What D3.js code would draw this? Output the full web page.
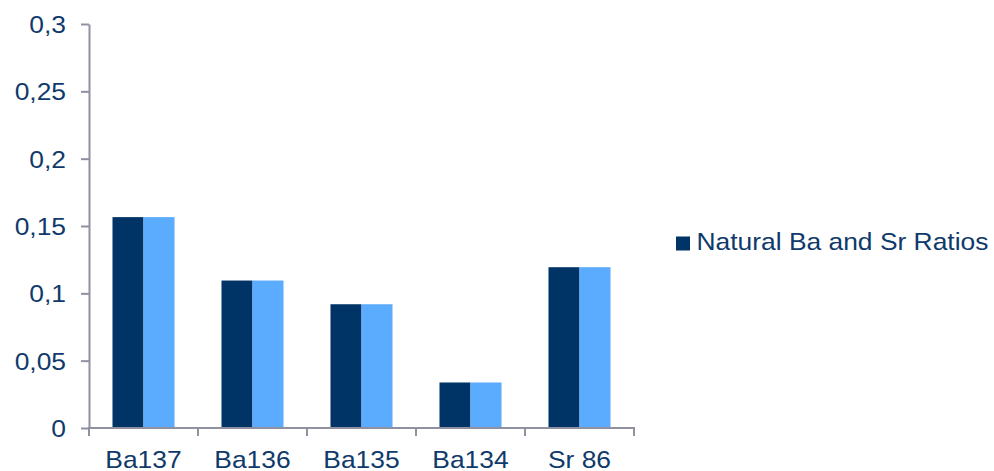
<!DOCTYPE html>
<html>
<head>
<meta charset="utf-8">
<script src="https://cdn.jsdelivr.net/npm/d3@7"></script>
<style>
  html, body { margin: 0; padding: 0; background: #fff; }
  svg { display: block; }
  text { font-family: "Liberation Sans", Arial, sans-serif; fill: #0f3a6b; }
</style>
</head>
<body>
<svg id="chart" width="994" height="471"></svg>
<script>
// Isotope ratios per category
const categories = ["Ba137", "Ba136", "Ba135", "Ba134", "Sr 86"];
const naturalRatios = [0.1566, 0.1095, 0.0919, 0.0338, 0.1194];
const secondRatios  = [0.1566, 0.1095, 0.0919, 0.0338, 0.1194];
const yTicks = [0, 0.05, 0.1, 0.15, 0.2, 0.25, 0.3];
const yTickLabels = ["0", "0,05", "0,1", "0,15", "0,2", "0,25", "0,3"];
const legendLabel = "Natural Ba and Sr Ratios";

const seriesKeys = ["natural", "second"];
const seriesColors = ["#003366", "#5babff"];
const rows = categories.map((c, i) => ({ cat: c, natural: naturalRatios[i], second: secondRatios[i] }));

const axisColor = "#8f90a0";
const stretch = 1.1;   // horizontal text stretch
const fontSize = 24;

const svg = d3.select("#chart");
const plot = { left: 89, right: 634, top: 24, bottom: 428 };

const y = d3.scaleLinear().domain([0, 0.3]).range([plot.bottom, plot.top]);
const p = 0.431;
const x0 = d3.scaleBand().domain(categories).range([plot.left, plot.right])
  .paddingInner(p).paddingOuter(p / 2);
const x1 = d3.scaleBand().domain(seriesKeys).range([0, x0.bandwidth()]);
const color = d3.scaleOrdinal().domain(seriesKeys).range(seriesColors);

// Bars
const groups = svg.append("g").selectAll("g").data(rows).join("g")
  .attr("transform", d => `translate(${x0(d.cat)},0)`);
groups.selectAll("rect")
  .data(d => seriesKeys.map(k => ({ key: k, value: d[k] })))
  .join("rect")
  .attr("x", d => x1(d.key))
  .attr("y", d => y(d.value))
  .attr("width", x1.bandwidth())
  .attr("height", d => y(0) - y(d.value))
  .attr("fill", d => color(d.key));

// Y axis
const yAxis = svg.append("g")
  .attr("transform", `translate(${plot.left},0)`)
  .call(d3.axisLeft(y).tickValues(yTicks).tickSize(8).tickSizeOuter(0)
    .tickFormat((d, i) => yTickLabels[i]));
yAxis.select(".domain").attr("stroke", axisColor).attr("stroke-width", 2);
yAxis.selectAll(".tick line").attr("stroke", axisColor).attr("stroke-width", 2);
yAxis.selectAll(".tick text")
  .attr("x", null).attr("dy", null)
  .attr("font-size", fontSize)
  .attr("text-anchor", "end")
  .attr("fill", "#0f3a6b")
  .attr("transform", `translate(-23,8.5) scale(${stretch},1)`);

// X axis: boundary ticks between categories
const boundaries = d3.range(categories.length + 1).map(i => plot.left + i * x0.step());
const xAxis = svg.append("g");
xAxis.append("line")
  .attr("x1", plot.left - 1).attr("x2", plot.right + 1)
  .attr("y1", y(0)).attr("y2", y(0))
  .attr("stroke", axisColor).attr("stroke-width", 2);
xAxis.selectAll(".btick").data(boundaries).join("line")
  .attr("class", "btick")
  .attr("x1", d => d).attr("x2", d => d)
  .attr("y1", y(0)).attr("y2", y(0) + 8)
  .attr("stroke", axisColor).attr("stroke-width", 2);
xAxis.selectAll(".clabel").data(categories).join("text")
  .attr("class", "clabel")
  .attr("text-anchor", "middle")
  .attr("font-size", fontSize)
  .attr("transform", d => `translate(${x0(d) + x0.bandwidth() / 2},${y(0) + 39.5}) scale(${stretch},1)`)
  .text(d => d);

// Legend
const legend = svg.append("g").attr("transform", "translate(676,236.5)");
legend.append("rect").attr("width", 14).attr("height", 14).attr("fill", seriesColors[0]);
legend.append("text")
  .attr("font-size", fontSize)
  .attr("transform", `translate(20.5,13) scale(${stretch},1)`)
  .text(legendLabel);
</script>
</body>
</html>
